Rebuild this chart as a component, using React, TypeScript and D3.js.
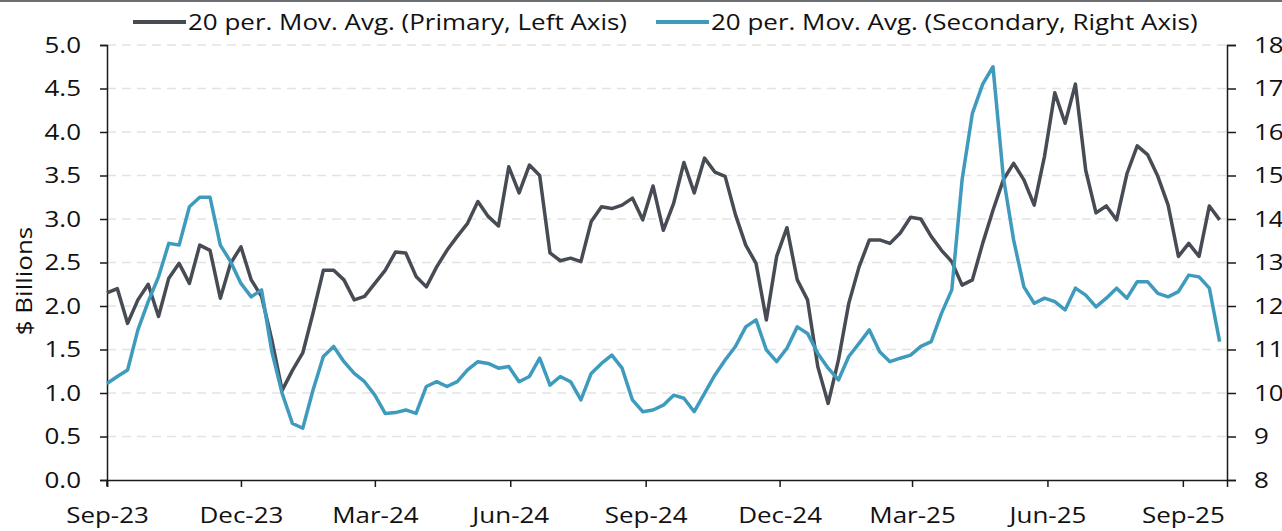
import React, { useEffect, useRef } from "react";
import * as d3 from "d3";

const W = 1282;
const H = 531;
const margin = { top: 45, right: 55, bottom: 51, left: 107 };

// weekly samples, starting 1 Sep 2023
const primary = [
  2.15, 2.2, 1.8, 2.07, 2.25, 1.88, 2.32, 2.49, 2.26, 2.7,
  2.64, 2.09, 2.49, 2.68, 2.3, 2.11, 1.61, 1.03, 1.26, 1.46,
  1.92, 2.41, 2.41, 2.3, 2.07, 2.11, 2.26, 2.41, 2.62, 2.61,
  2.34, 2.22, 2.45, 2.64, 2.8, 2.95, 3.2, 3.03, 2.92, 3.6,
  3.3, 3.62, 3.5, 2.61, 2.52, 2.55, 2.51, 2.97, 3.14, 3.12,
  3.16, 3.24, 2.99, 3.38, 2.87, 3.18, 3.65, 3.3, 3.7, 3.54,
  3.49, 3.05, 2.7, 2.49, 1.84, 2.57, 2.9, 2.3, 2.07, 1.3,
  0.88, 1.38, 2.03, 2.45, 2.76, 2.76, 2.72, 2.84, 3.02, 3.0,
  2.8, 2.64, 2.51, 2.24, 2.3, 2.72, 3.1, 3.45, 3.64, 3.45,
  3.16, 3.72, 4.45, 4.1, 4.55, 3.56, 3.07, 3.15, 2.99, 3.52,
  3.84, 3.74, 3.49, 3.16, 2.57, 2.72, 2.57, 3.15, 2.99,
];

const secondary = [
  10.22, 10.38, 10.53, 11.45, 12.1, 12.67, 13.44, 13.4, 14.28, 14.5,
  14.5, 13.4, 13.02, 12.52, 12.21, 12.37, 10.95, 9.99, 9.3, 9.19,
  10.07, 10.84, 11.07, 10.72, 10.45, 10.26, 9.95, 9.53, 9.55, 9.61,
  9.53, 10.15, 10.26, 10.15, 10.26, 10.53, 10.72, 10.68, 10.57, 10.61,
  10.26, 10.38, 10.8, 10.18, 10.38, 10.26, 9.84, 10.45, 10.68, 10.87,
  10.57, 9.84, 9.57, 9.61, 9.72, 9.95, 9.88, 9.57, 9.99, 10.41,
  10.76, 11.07, 11.52, 11.68, 10.99, 10.72, 11.03, 11.52, 11.37, 10.91,
  10.57, 10.3, 10.84, 11.14, 11.45, 10.95, 10.72, 10.8, 10.87, 11.07,
  11.18, 11.83, 12.37, 14.9, 16.43, 17.1, 17.5, 14.97, 13.52, 12.44,
  12.06, 12.18, 12.1, 11.91, 12.41, 12.25, 11.98, 12.18, 12.41, 12.18,
  12.56, 12.56, 12.29, 12.21, 12.33, 12.71, 12.67, 12.41, 11.18,
];

const seriesNames = [
  "20 per. Mov. Avg. (Primary, Left Axis)",
  "20 per. Mov. Avg. (Secondary, Right Axis)",
];
const colors = ["#474b53", "#3f9bbd"];

const leftTicks = [0, 0.5, 1, 1.5, 2, 2.5, 3, 3.5, 4, 4.5, 5];
const rightTicks = [8, 9, 10, 11, 12, 13, 14, 15, 16, 17, 18];

const startDate = new Date(2023, 8, 1);
const endDate = new Date(2025, 9, 1);

const FONT = "'Open Sans', Lato, sans-serif";
const FS = "22px";
const STRETCH = 1.18; // the original's lettering is wider than Open Sans

export default function App() {
  const ref = useRef<SVGSVGElement | null>(null);

  useEffect(() => {
    const svg = d3.select(ref.current);
    svg.selectAll("*").remove();

    const dates = primary.map((_, i) => d3.timeDay.offset(startDate, i * 7));

    const x = d3.scaleTime().domain([startDate, endDate]).range([margin.left, W - margin.right]);
    const yL = d3.scaleLinear().domain([0, 5]).range([H - margin.bottom, margin.top]);
    const yR = d3.scaleLinear().domain([8, 18]).range([H - margin.bottom, margin.top]);

    svg.append("rect").attr("width", W).attr("height", H).attr("fill", "#fff");
    // top border
    svg.append("line")
      .attr("x1", 0).attr("x2", W).attr("y1", 1).attr("y2", 1)
      .attr("stroke", "#6b6e73").attr("stroke-width", 2);

    // gridlines
    svg.append("g")
      .selectAll("line")
      .data(leftTicks.filter(d => d > 0))
      .join("line")
      .attr("x1", margin.left).attr("x2", W - margin.right)
      .attr("y1", d => yL(d)).attr("y2", d => yL(d))
      .attr("stroke", "#e3e3e3")
      .attr("stroke-width", 1.5)
      .attr("stroke-dasharray", "9,6");

    const styleAxis = (g: any) => {
      g.selectAll("path").attr("stroke", "#1a1a1a").attr("stroke-width", 1.5);
      g.selectAll("line").attr("stroke", "#1a1a1a").attr("stroke-width", 1.5);
      g.selectAll("text")
        .attr("fill", "#111")
        .style("font-family", FONT)
        .style("font-size", FS);
    };

    const tickDates = d3.timeMonth.range(startDate, endDate, 3);
    const xAxis = d3.axisBottom(x)
      .tickValues(tickDates)
      .tickFormat(d3.timeFormat("%b-%y") as any)
      .tickSizeOuter(0)
      .tickSize(7)
      .tickPadding(20);
    svg.append("g")
      .attr("transform", `translate(0,${H - margin.bottom})`)
      .call(xAxis)
      .call(styleAxis);

    const leftAxis = d3.axisLeft(yL)
      .tickValues(leftTicks)
      .tickFormat(d3.format(".1f") as any)
      .tickSizeOuter(0)
      .tickSize(7)
      .tickPadding(19);
    svg.append("g")
      .attr("transform", `translate(${margin.left},0)`)
      .call(leftAxis)
      .call(styleAxis);
    // small stub of the left axis below the x axis
    svg.append("line")
      .attr("x1", margin.left).attr("x2", margin.left)
      .attr("y1", H - margin.bottom).attr("y2", H - margin.bottom + 6)
      .attr("stroke", "#1a1a1a").attr("stroke-width", 1.5);

    const rightAxis = d3.axisRight(yR)
      .tickValues(rightTicks)
      .tickFormat(d3.format("d") as any)
      .tickSizeOuter(0)
      .tickSize(9)
      .tickPadding(18);
    svg.append("g")
      .attr("transform", `translate(${W - margin.right},0)`)
      .call(rightAxis)
      .call(styleAxis);

    // y axis title
    svg.append("text")
      .attr("text-anchor", "middle")
      .attr("transform", "translate(32,281)rotate(-90)")
      .style("font-family", FONT)
      .style("font-size", FS)
      .attr("fill", "#111")
      .text("$ Billions");

    const lineL = d3.line<number>()
      .x((_, i) => x(dates[i]))
      .y(d => yL(d));
    const lineR = d3.line<number>()
      .x((_, i) => x(dates[i]))
      .y(d => yR(d));

    svg.append("path")
      .datum(primary)
      .attr("fill", "none")
      .attr("stroke", colors[0])
      .attr("stroke-width", 3.5)
      .attr("stroke-linejoin", "round")
      .attr("d", lineL);

    svg.append("path")
      .datum(secondary)
      .attr("fill", "none")
      .attr("stroke", colors[1])
      .attr("stroke-width", 3.5)
      .attr("stroke-linejoin", "round")
      .attr("d", lineR);

    // legend
    const legendX = [133, 656];
    const legend = svg.append("g");
    seriesNames.forEach((name, i) => {
      legend.append("line")
        .attr("x1", legendX[i]).attr("x2", legendX[i] + 53)
        .attr("y1", 22).attr("y2", 22)
        .attr("stroke", colors[i])
        .attr("stroke-width", 4);
      legend.append("text")
        .attr("x", legendX[i] + 55)
        .attr("y", 30)
        .style("font-family", FONT)
        .style("font-size", FS)
        .attr("fill", "#111")
        .text(name);
    });

    // widen all lettering a bit
    svg.selectAll<SVGTextElement, unknown>("text").each(function () {
      const len = this.getComputedTextLength();
      d3.select(this)
        .attr("textLength", len * STRETCH)
        .attr("lengthAdjust", "spacingAndGlyphs");
    });
  }, []);

  return (
    <div style={{ position: "absolute", left: 0, top: 0 }}>
      <svg ref={ref} width={W} height={H} />
    </div>
  );
}
